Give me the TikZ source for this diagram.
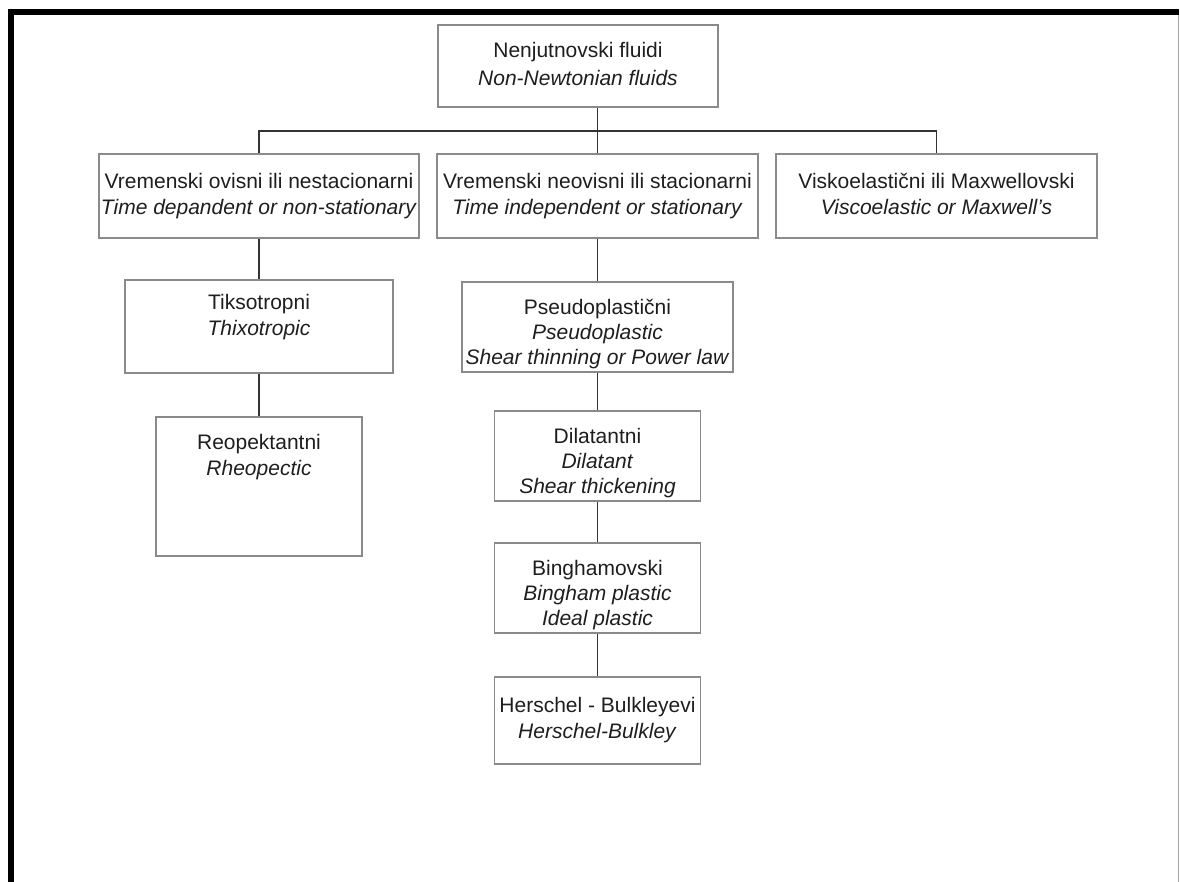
\documentclass[tikz,border=0pt]{standalone}
\usepackage{fontspec}
\setmainfont{Liberation Sans}
\definecolor{boxgray}{HTML}{8A8A8A}
\definecolor{linegray}{HTML}{333333}
\definecolor{txt}{HTML}{1E1E1E}
\newcommand{\dn}{\rule{0pt}{32pt}}
\begin{document}
\begin{tikzpicture}[x=1pt,y=-1pt,
  box/.style={draw=boxgray, line width=1.3pt, inner sep=0pt, align=center,
    text=txt, font=\fontsize{21}{26}\selectfont},
  conn/.style={draw=linegray, line width=1.4pt}]
\useasboundingbox (0,0) rectangle (1180,882);
% frame
\fill[black] (8,9) rectangle (1179,15);
\fill[black] (8,9) rectangle (14,882);
\draw[gray!70, line width=1.2pt] (1178.5,15) -- (1178.5,882);
% nodes
\node[box, minimum width=280pt, minimum height=82pt] (top) at (578,66)
  {\strut Nenjutnovski fluidi\\[2pt]\strut\textit{Non-Newtonian fluids}};
\node[box, minimum width=320pt, minimum height=84pt] (l2a) at (259,196)
  {\strut Vremenski ovisni ili nestacionarni\\\strut\textit{Time depandent or non-stationary}};
\node[box, minimum width=321pt, minimum height=84pt] (l2b) at (597.5,196)
  {\strut Vremenski neovisni ili stacionarni\\\strut\textit{Time independent or stationary}};
\node[box, minimum width=321pt, minimum height=84pt] (l2c) at (936.5,196)
  {\strut Viskoelastični ili Maxwellovski\\\strut\textit{Viscoelastic or Maxwell's}};
\node[box, minimum width=268pt, minimum height=93pt] (tik) at (259,326.5)
  {\strut Tiksotropni\\\strut\textit{Thixotropic}\\[-7pt]\strut};
\node[box, minimum width=206pt, minimum height=139pt] (reo) at (259,486.5)
  {\strut Reopektantni\\\strut\textit{Rheopectic}\\[32pt]\strut};
\node[box, minimum width=271pt, minimum height=88pt] (pse) at (597.5,327)
  {\dn\strut Pseudoplastični\\[-1pt]\strut\textit{Pseudoplastic}\\[-1pt]\strut\textit{Shear thinning or Power law}};
\node[box, minimum width=206pt, minimum height=88pt] (dil) at (597.5,456)
  {\dn\strut Dilatantni\\[-1pt]\strut\textit{Dilatant}\\[-1pt]\strut\textit{Shear thickening}};
\node[box, minimum width=206pt, minimum height=90pt] (bin) at (597.5,588)
  {\dn\strut Binghamovski\\[-1pt]\strut\textit{Bingham plastic}\\[-1pt]\strut\textit{Ideal plastic}};
\node[box, minimum width=206pt, minimum height=87pt] (her) at (597.5,720.5)
  {\strut Herschel - Bulkleyevi\\\strut\textit{Herschel-Bulkley}};
% connectors
\coordinate (hb) at (597.5,131);
\draw[conn] (hb |- top.south) -- (hb);
\draw[conn] (l2a.north) |- (hb) -| (l2c.north);
\draw[conn] (hb) -- (l2b.north);
\draw[conn] (l2a.south) -- (tik.north);
\draw[conn] (tik.south) -- (reo.north);
\draw[conn] (l2b.south) -- (pse.north);
\draw[conn] (pse.south) -- (dil.north);
\draw[conn] (dil.south) -- (bin.north);
\draw[conn] (bin.south) -- (her.north);
\end{tikzpicture}
\end{document}
